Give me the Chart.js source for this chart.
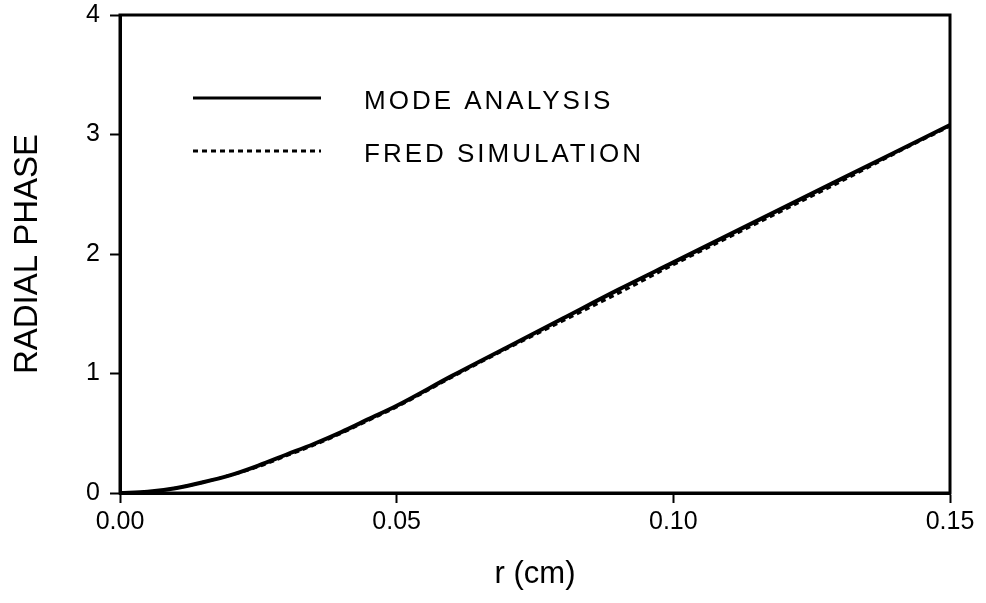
<!DOCTYPE html>
<html>
<head>
<meta charset="utf-8">
<script src="https://cdn.jsdelivr.net/npm/chart.js@4/dist/chart.umd.min.js"></script>
<style>
  html, body { margin: 0; padding: 0; background: #fff; }
  #wrap { width: 986px; height: 603px; position: relative; }
</style>
</head>
<body>
<div id="wrap"><canvas id="phaseChart"></canvas></div>
<script>
// --- DADOS ---
const rValues = [0, 0.005, 0.01, 0.015, 0.02, 0.025, 0.03, 0.035, 0.04, 0.045, 0.05,
                 0.06, 0.07, 0.08, 0.09, 0.10, 0.11, 0.12, 0.13, 0.14, 0.15];
const modeAnalysis = [0, 0.01, 0.04, 0.09, 0.15, 0.23, 0.32, 0.41, 0.51, 0.62, 0.73,
                      0.98, 1.22, 1.46, 1.70, 1.93, 2.16, 2.39, 2.62, 2.85, 3.08];
const fredSimulation = [0, 0.01, 0.04, 0.09, 0.15, 0.22, 0.31, 0.40, 0.50, 0.61, 0.72,
                        0.97, 1.21, 1.44, 1.67, 1.91, 2.14, 2.37, 2.60, 2.84, 3.07];
const seriesNames = ['MODE ANALYSIS', 'FRED SIMULATION'];
const xTicks = [0, 0.05, 0.10, 0.15];
const yTicks = [0, 1, 2, 3, 4];

const toPoints = vals => rValues.map((r, i) => ({ x: r, y: vals[i] }));
const FONT = '"Liberation Sans", Arial, sans-serif';

// --- moldura e legenda desenhadas à mão ---
const framePlugin = {
    id: 'frame',
    afterDraw(chart) {
        const { ctx, chartArea: a } = chart;
        ctx.save();
        ctx.strokeStyle = '#000';
        ctx.lineWidth = 3;
        ctx.strokeRect(a.left, a.top, a.right - a.left, a.bottom - a.top);

        // legenda
        ctx.font = '26px ' + FONT;
        ctx.fillStyle = '#000';
        ctx.textBaseline = 'middle';
        ctx.letterSpacing = '3px';
        const rows = [{ y: 98, text: 102 }, { y: 151, text: 155 }];
        chart.data.datasets.forEach((ds, i) => {
            ctx.beginPath();
            ctx.setLineDash(ds.borderDash || []);
            ctx.lineWidth = 3;
            ctx.moveTo(193, rows[i].y);
            ctx.lineTo(321, rows[i].y);
            ctx.stroke();
            ctx.fillText(ds.label, 364, rows[i].text);
        });
        ctx.restore();
    }
};

new Chart(document.getElementById('phaseChart'), {
    type: 'line',
    data: {
        datasets: [
            { label: seriesNames[0], data: toPoints(modeAnalysis), borderColor: '#000', borderWidth: 4,
              pointRadius: 0, cubicInterpolationMode: 'monotone', fill: false },
            { label: seriesNames[1], data: toPoints(fredSimulation), borderColor: '#000', borderWidth: 3,
              borderDash: [5, 4], pointRadius: 0, cubicInterpolationMode: 'monotone', fill: false }
        ]
    },
    options: {
        responsive: true, maintainAspectRatio: false, animation: false,
        layout: { padding: { top: 15, right: 36, left: 0, bottom: 0 } },
        plugins: { legend: { display: false }, tooltip: { enabled: false } },
        scales: {
            x: {
                type: 'linear', min: 0, max: 0.15,
                afterFit: s => { s.height = 110; },
                afterBuildTicks: s => { s.ticks = xTicks.map(v => ({ value: v })); },
                grid: { drawOnChartArea: false, drawTicks: true, tickLength: 10, tickWidth: 2, tickColor: '#000' },
                border: { display: true, color: '#000', width: 3 },
                ticks: { color: '#000', padding: 4, maxRotation: 0, font: { family: FONT, size: 25 },
                         callback: v => Number(v).toFixed(2) },
                title: { display: true, text: 'r (cm)', color: '#000', padding: { top: 0, bottom: 10 },
                         font: { family: FONT, size: 31 } }
            },
            y: {
                min: 0, max: 4,
                afterFit: s => { s.width = 120; s.paddingTop = 0; s.paddingBottom = 0; },
                afterBuildTicks: s => { s.ticks = yTicks.map(v => ({ value: v })); },
                grid: { drawOnChartArea: false, drawTicks: true, tickLength: 10, tickWidth: 2, tickColor: '#000' },
                border: { display: true, color: '#000', width: 3 },
                ticks: { color: '#000', padding: 10, font: { family: FONT, size: 25, lineHeight: 0.4 } },
                title: { display: true, text: 'RADIAL PHASE', color: '#000', padding: { top: 8, bottom: 0 },
                         font: { family: FONT, size: 33 } }
            }
        }
    },
    plugins: [framePlugin]
});
</script>
</body>
</html>
